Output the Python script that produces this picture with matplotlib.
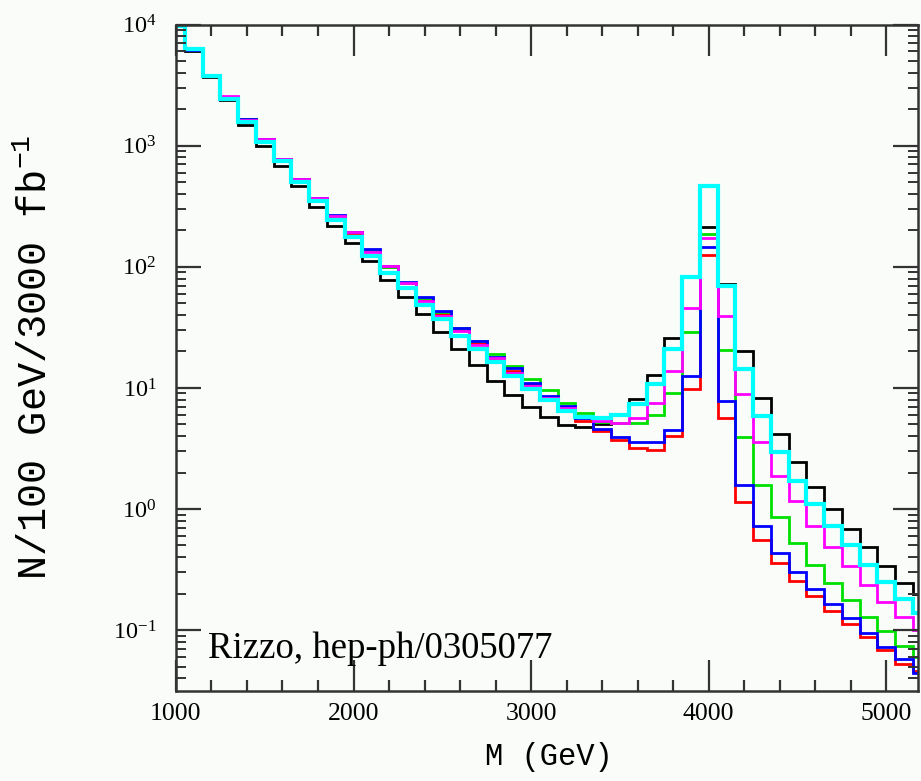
import numpy as np
import matplotlib
matplotlib.use("Agg")
import matplotlib.pyplot as plt
from matplotlib.ticker import MultipleLocator, LogLocator, LogFormatterSciNotation, NullFormatter

plt.rcParams["font.family"] = ["Liberation Serif", "DejaVu Serif"]
plt.rcParams["mathtext.fontset"] = "custom"
plt.rcParams["mathtext.rm"] = "Liberation Serif"
plt.rcParams["mathtext.tt"] = "Liberation Mono"

BG = "#f9fcf9"

# bin centres (GeV), 100 GeV wide bins
mass = [1000, 1100, 1200, 1300, 1400, 1500, 1600, 1700, 1800, 1900,
        2000, 2100, 2200, 2300, 2400, 2500, 2600, 2700, 2800, 2900,
        3000, 3100, 3200, 3300, 3400, 3500, 3600, 3700, 3800, 3900,
        4000, 4100, 4200, 4300, 4400, 4500, 4600, 4700, 4800, 4900,
        5000, 5100, 5200]

n_black = [9800, 6000, 3700, 2400, 1490, 1000, 674, 466, 313, 219,
           158, 112, 78, 56, 41, 29, 21, 15.4, 11.5, 8.8,
           6.9, 5.8, 4.9, 4.8, 5.0, 6.0, 8.1, 12.8, 25.6, 83,
           212, 72, 20, 8.3, 4.2, 2.43, 1.52, 1.0, 0.68, 0.49,
           0.34, 0.247, 0.2]

n_red = [9800, 6200, 3750, 2480, 1650, 1120, 770, 525, 365, 262,
         190, 137, 99, 73, 54, 41, 30, 23.5, 17.3, 13.8,
         10.6, 8.2, 6.8, 5.3, 4.4, 3.7, 3.2, 3.1, 4.0, 9.8,
         125, 5.6, 1.15, 0.56, 0.36, 0.255, 0.19, 0.145, 0.112, 0.087,
         0.068, 0.053, 0.046]

n_green = [9800, 6200, 3750, 2480, 1650, 1130, 775, 528, 368, 265,
           192, 138, 100, 74, 55, 42, 31, 24.2, 19.0, 15.2,
           11.9, 9.6, 7.5, 6.2, 5.2, 5.1, 5.1, 6.0, 9.0, 29,
           187, 20.5, 3.95, 1.59, 0.86, 0.525, 0.345, 0.247, 0.178, 0.128,
           0.099, 0.074, 0.06]

n_blue = [9800, 6200, 3750, 2500, 1670, 1140, 780, 533, 370, 268,
          194, 140, 101, 75, 56, 43, 31, 24.5, 17.9, 14.5,
          11.0, 8.5, 7.1, 5.6, 4.6, 3.9, 3.55, 3.55, 4.5, 12.6,
          145, 7.8, 1.59, 0.73, 0.436, 0.304, 0.217, 0.164, 0.126, 0.094,
          0.073, 0.058, 0.044]

n_magenta = [9800, 6300, 3800, 2550, 1640, 1140, 780, 530, 371, 262,
             192, 133, 101, 73, 52, 39, 29.5, 22.8, 17.5, 13.2,
             10.3, 8.3, 6.8, 5.7, 5.3, 5.1, 5.6, 7.5, 13.8, 46,
             172, 39, 8.9, 3.6, 1.88, 1.16, 0.73, 0.49, 0.34, 0.236,
             0.171, 0.128, 0.1]

n_cyan = [9800, 6240, 3750, 2450, 1580, 1070, 740, 504, 351, 245,
          177, 123, 89, 67, 48, 37, 27, 21, 16.3, 12.6,
          9.8, 7.9, 6.5, 5.8, 5.6, 6.0, 7.3, 10.7, 20.8, 82,
          460, 69, 14.4, 5.9, 2.97, 1.71, 1.1, 0.73, 0.50, 0.345,
          0.25, 0.18, 0.138]

series = [
    (n_black, "#000000", 2.0),
    (n_red, "#ff0000", 2.0),
    (n_green, "#00e000", 2.0),
    (n_blue, "#0000ff", 2.0),
    (n_magenta, "#ff00ff", 2.0),
    (n_cyan, "#00ffff", 3.0),
]

fig = plt.figure(figsize=(9.21, 7.81), dpi=100, facecolor=BG)
ax = fig.add_axes([0.191, 0.1156, 0.806, 0.853])
ax.set_facecolor(BG)

edges = np.append(np.array(mass) - 50, mass[-1] + 50)
for vals, col, lw in series:
    ax.stairs(vals, edges, color=col, linewidth=lw)

ax.set_yscale("log")
ax.set_xlim(1000, 5180)
ax.set_ylim(10 ** -1.5, 1e4)

ax.xaxis.set_major_locator(MultipleLocator(1000))
ax.xaxis.set_minor_locator(MultipleLocator(200))
ax.yaxis.set_major_locator(LogLocator(base=10, numticks=20))
ax.yaxis.set_minor_locator(LogLocator(base=10, subs=np.arange(2, 10), numticks=20))
ax.yaxis.set_major_formatter(LogFormatterSciNotation())
ax.yaxis.set_minor_formatter(NullFormatter())

for s in ax.spines.values():
    s.set_linewidth(1.8)
    s.set_color("#333333")
ax.tick_params(which="both", direction="in", top=True, right=True, color="#333333")
ax.tick_params(axis="x", which="major", length=22, width=1.6, labelsize=18.5, pad=9)
ax.tick_params(axis="x", which="minor", length=8, width=1.6)
ax.tick_params(axis="y", which="major", length=18, width=1.6, labelsize=17.5, pad=14)
ax.tick_params(axis="y", which="minor", length=7, width=1.4)

ax.set_xlabel("M (GeV)", family="Liberation Mono", fontsize=22)
ax.xaxis.set_label_coords(0.503, -0.077)
ax.set_ylabel(r"N/100 GeV/3000 fb$^{\mathtt{-1}}$", family="Liberation Mono", fontsize=29)
ax.yaxis.set_label_coords(-0.163, 0.5)

ax.text(0.043, 0.0486, "Rizzo, hep-ph/0305077", transform=ax.transAxes,
        ha="left", va="baseline", fontsize=26.5, family="Liberation Serif")

fig.savefig("out.png", dpi=100, facecolor=BG)
